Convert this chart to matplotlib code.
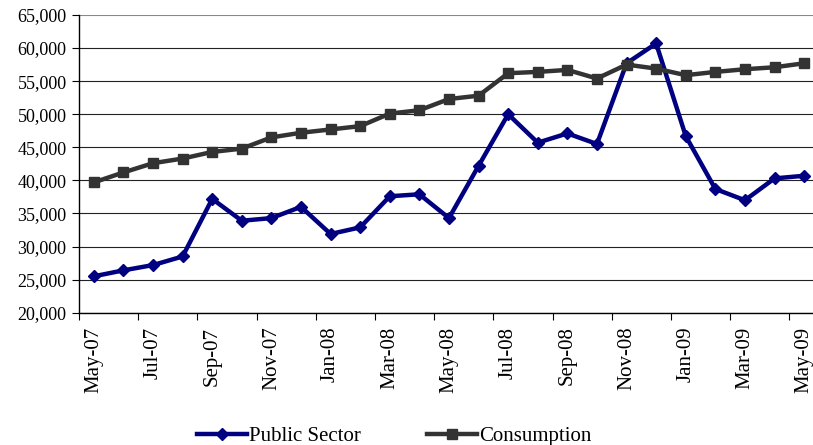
import numpy as np
import matplotlib.pyplot as plt
from matplotlib.ticker import FuncFormatter

plt.rcParams['font.family'] = ['Liberation Serif', 'DejaVu Serif']

# monthly data, May-07 .. May-09
months = ['May-07', 'Jun-07', 'Jul-07', 'Aug-07', 'Sep-07', 'Oct-07', 'Nov-07', 'Dec-07',
          'Jan-08', 'Feb-08', 'Mar-08', 'Apr-08', 'May-08', 'Jun-08', 'Jul-08', 'Aug-08',
          'Sep-08', 'Oct-08', 'Nov-08', 'Dec-08', 'Jan-09', 'Feb-09', 'Mar-09', 'Apr-09',
          'May-09']
public_sector = [25500, 26400, 27200, 28500, 37200, 33900, 34300, 36000, 31900, 32900,
                 37600, 37900, 34300, 42200, 50000, 45700, 47100, 45500, 57700, 60700,
                 46700, 38700, 37000, 40300, 40700]
consumption = [39700, 41200, 42600, 43300, 44300, 44800, 46500, 47200, 47700, 48200,
               50100, 50600, 52300, 52800, 56200, 56400, 56700, 55400, 57500, 56900,
               55900, 56400, 56800, 57100, 57700]

x = np.arange(len(months))

fig = plt.figure(figsize=(8.13, 4.45), dpi=100)
ax = fig.add_axes([0.0972, 0.2973, 0.9028, 0.6690])

ax.plot(x, public_sector, color='#000080', lw=3.2, marker='D', ms=6,
        label='Public Sector', zorder=3)
ax.plot(x, consumption, color='#333333', lw=3.2, marker='s', ms=7,
        label='Consumption', zorder=3)

#----------------------------------------
# axes
ax.set_ylim(20000, 65000)
ax.set_yticks(np.arange(20000, 65001, 5000))
ax.yaxis.set_major_formatter(FuncFormatter(lambda v, p: f'{int(v):,}'))
ax.set_xlim(-0.5, 24.3)
ax.set_xticks(np.arange(-0.5, 24, 2))
ax.set_xticklabels([])
ax.set_xticks(x[::2], [months[i] for i in x[::2]], minor=True, rotation=90)
ax.tick_params(axis='x', which='minor', length=0, pad=10, labelsize=15)
ax.tick_params(axis='x', which='major', length=5, width=0.8, direction='out')
ax.tick_params(axis='y', length=5, width=0.8, direction='out', labelsize=13, pad=4)

ax.grid(axis='y', color='#222222', lw=0.8, zorder=1)
for s in ['top', 'right']:
    ax.spines[s].set_visible(False)
ax.spines['left'].set_linewidth(1.0)
ax.spines['bottom'].set_linewidth(1.0)
ax.get_ygridlines()[-1].set_color('#888888')

fig.legend(loc='lower center', bbox_to_anchor=(0.485, -0.045), ncol=2, frameon=False,
           fontsize=15, handlelength=2.4, columnspacing=3.2, handletextpad=0.1)

plt.savefig('out.png', dpi=100)
